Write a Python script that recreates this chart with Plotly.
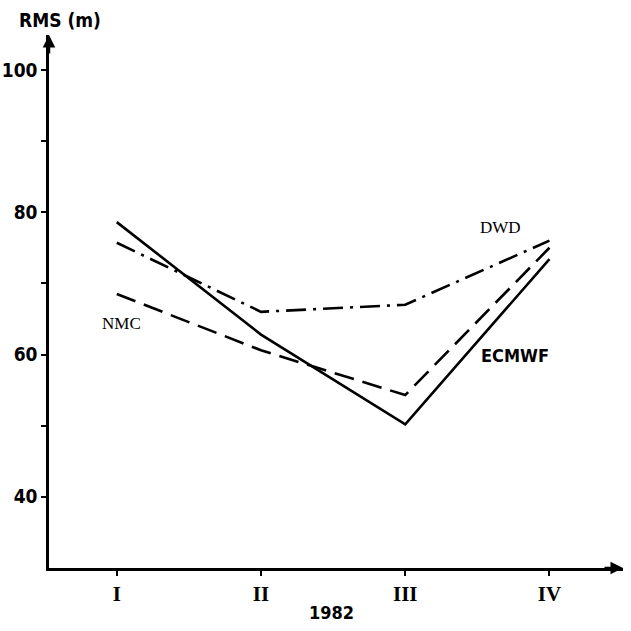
import plotly.graph_objects as go

quarters = ["I", "II", "III", "IV"]
quarter_pos = [0, 1, 2, 3]
ecmwf = [78.6, 62.8, 50.2, 73.4]
dwd = [75.7, 66.0, 67.0, 76.0]
nmc = [68.5, 60.6, 54.3, 75.0]
y_ticks = [40, 60, 80, 100]

SANS = "DejaVu Sans Condensed, Liberation Sans Narrow, sans-serif"

fig = go.Figure()
fig.add_trace(go.Scatter(x=quarter_pos, y=ecmwf, mode="lines", name="ECMWF",
                         line=dict(color="black", width=2.6)))
fig.add_trace(go.Scatter(x=quarter_pos, y=dwd, mode="lines", name="DWD",
                         line=dict(color="black", width=2.6, dash="20px,7px,3px,7px")))
fig.add_trace(go.Scatter(x=quarter_pos, y=nmc, mode="lines", name="NMC",
                         line=dict(color="black", width=2.6, dash="20px,9px")))

fig.update_layout(
    width=631, height=631,
    margin=dict(l=49, r=8, t=35, b=63),
    plot_bgcolor="white", paper_bgcolor="white",
    showlegend=False,
    xaxis=dict(range=[-0.47, 3.51], tickvals=quarter_pos,
               ticktext=["<b>%s</b>" % q for q in quarters],
               showline=True, linecolor="black", linewidth=2.5,
               ticks="outside", ticklen=5, tickwidth=2, tickcolor="black",
               showgrid=False, zeroline=False, automargin=False,
               tickfont=dict(family="Liberation Serif", size=21, color="black")),
    yaxis=dict(range=[30, 104.9], tickvals=y_ticks,
               ticktext=["<b>%d</b>" % v for v in y_ticks],
               showline=True, linecolor="black", linewidth=2.5,
               ticks="outside", ticklen=5, tickwidth=2, tickcolor="black",
               minor=dict(tickvals=[50, 70, 90], ticks="outside", ticklen=5,
                          tickwidth=2, tickcolor="black"),
               showgrid=False, zeroline=False, automargin=False,
               tickfont=dict(family=SANS, size=19, color="black")),
)

annos = [
    dict(text="NMC", x=0.03, y=64.3, xref="x", yref="y",
         font=dict(family="Liberation Serif", size=17, color="black")),
    dict(text="DWD", x=2.66, y=77.9, xref="x", yref="y",
         font=dict(family="Liberation Serif", size=17, color="black")),
    dict(text="<b>ECMWF</b>", x=2.76, y=59.9, xref="x", yref="y",
         font=dict(family=SANS, size=18, color="black")),
    dict(text="<b>RMS (m)</b>", x=0.019, y=1.028, xref="paper", yref="paper",
         font=dict(family=SANS, size=19, color="black")),
    dict(text="<b>1982</b>", x=0.493, y=-0.083, xref="paper", yref="paper",
         font=dict(family=SANS, size=18, color="black")),
]
for a in annos:
    a["showarrow"] = False
    a["xanchor"] = "center"
    a["yanchor"] = "middle"
    fig.add_annotation(**a)

# axis arrowheads
fig.add_annotation(x=0, y=1.0, xref="paper", yref="paper", ax=0, ay=20,
                   showarrow=True, arrowhead=2, arrowsize=1, arrowwidth=2.5,
                   arrowcolor="black", text="")
fig.add_annotation(x=1.0, y=0, xref="paper", yref="paper", ax=-20, ay=0,
                   showarrow=True, arrowhead=2, arrowsize=1, arrowwidth=2.5,
                   arrowcolor="black", text="")

fig.write_html("out.html")
